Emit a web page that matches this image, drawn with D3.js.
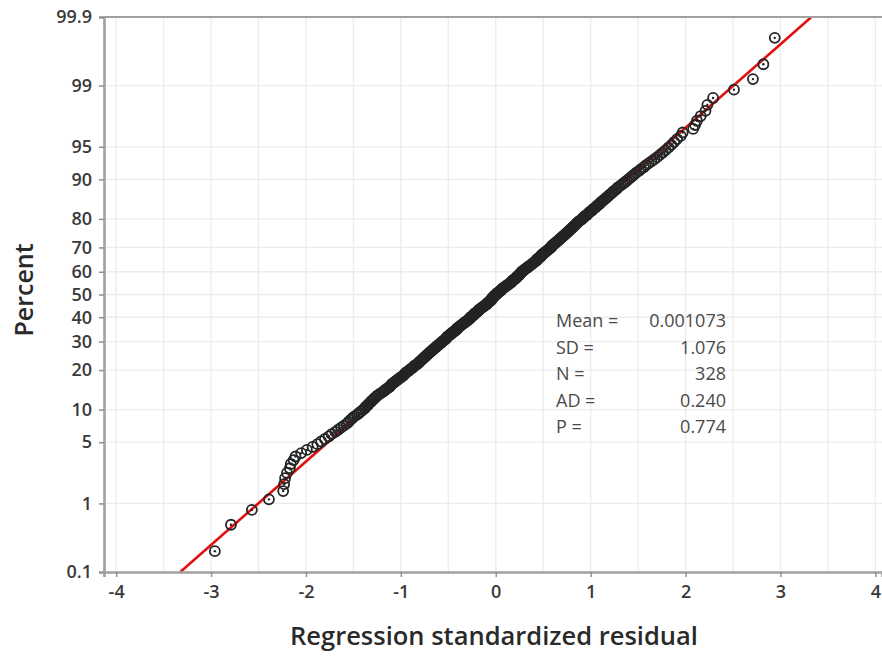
<!DOCTYPE html>
<html>
<head>
<meta charset="utf-8">
<script src="https://cdn.jsdelivr.net/npm/d3@7"></script>
<style>
  html, body { margin: 0; padding: 0; background: #ffffff; }
  svg { display: block; }
  .tick text { font-family: "Open Sans", sans-serif; font-weight: 600; fill: #3a3a3a; }
</style>
</head>
<body>
<svg id="chart" width="882" height="658"></svg>
<script>
// Standardized residuals, sorted ascending (n = 328)
const residuals = [
  -2.96, -2.79, -2.57, -2.39, -2.24, -2.23, -2.22, -2.20, -2.17, -2.16,
  -2.13, -2.11, -2.05, -1.99, -1.93, -1.88, -1.84, -1.80, -1.76, -1.73,
  -1.69, -1.66, -1.63, -1.60, -1.57, -1.55, -1.53, -1.51, -1.49, -1.46,
  -1.44, -1.42, -1.40, -1.38, -1.37, -1.35, -1.34, -1.32, -1.31, -1.29,
  -1.28, -1.26, -1.25, -1.23, -1.21, -1.19, -1.17, -1.16, -1.14, -1.12,
  -1.11, -1.10, -1.09, -1.07, -1.06, -1.04, -1.03, -1.01, -1.00, -0.98,
  -0.97, -0.96, -0.95, -0.94, -0.92, -0.91, -0.90, -0.88, -0.87, -0.86,
  -0.85, -0.83, -0.82, -0.81, -0.80, -0.79, -0.78, -0.77, -0.76, -0.75,
  -0.74, -0.73, -0.72, -0.71, -0.70, -0.69, -0.68, -0.67, -0.66, -0.65,
  -0.64, -0.63, -0.62, -0.61, -0.60, -0.59, -0.58, -0.57, -0.56, -0.55,
  -0.54, -0.53, -0.52, -0.52, -0.51, -0.50, -0.49, -0.48, -0.47, -0.46,
  -0.45, -0.44, -0.43, -0.42, -0.41, -0.41, -0.40, -0.39, -0.38, -0.37,
  -0.36, -0.35, -0.34, -0.33, -0.32, -0.31, -0.30, -0.29, -0.28, -0.27,
  -0.27, -0.26, -0.25, -0.24, -0.23, -0.23, -0.22, -0.21, -0.20, -0.19,
  -0.18, -0.18, -0.17, -0.16, -0.15, -0.14, -0.13, -0.12, -0.11, -0.10,
  -0.09, -0.09, -0.08, -0.07, -0.06, -0.05, -0.05, -0.04, -0.04, -0.03,
  -0.02, -0.02, -0.01, 0.00,
  0.01, 0.01, 0.02, 0.03, 0.04, 0.05, 0.06, 0.06, 0.07, 0.08,
  0.09, 0.10, 0.11, 0.12, 0.13, 0.14, 0.15, 0.16, 0.17, 0.17,
  0.18, 0.19, 0.20, 0.21, 0.22, 0.22, 0.23, 0.24, 0.25, 0.25,
  0.26, 0.27, 0.27, 0.28, 0.29, 0.30, 0.31, 0.32, 0.33, 0.34,
  0.35, 0.36, 0.37, 0.38, 0.39, 0.40, 0.41, 0.42, 0.43, 0.43,
  0.44, 0.45, 0.46, 0.47, 0.48, 0.48, 0.49, 0.50, 0.51, 0.52,
  0.53, 0.54, 0.55, 0.56, 0.57, 0.58, 0.59, 0.59, 0.60, 0.61,
  0.62, 0.63, 0.64, 0.65, 0.66, 0.67, 0.68, 0.69, 0.70, 0.71,
  0.72, 0.73, 0.74, 0.75, 0.76, 0.77, 0.78, 0.79, 0.80, 0.81,
  0.82, 0.83, 0.84, 0.85, 0.86, 0.87, 0.88, 0.90, 0.91, 0.92,
  0.93, 0.94, 0.96, 0.97, 0.98, 0.99, 1.01, 1.02, 1.03, 1.05,
  1.06, 1.07, 1.09, 1.10, 1.11, 1.13, 1.14, 1.16, 1.17, 1.19,
  1.20, 1.22, 1.23, 1.25, 1.27, 1.28, 1.30, 1.32, 1.34, 1.36,
  1.38, 1.40, 1.42, 1.44, 1.46, 1.48, 1.51, 1.53, 1.56, 1.58,
  1.61, 1.64, 1.67, 1.70, 1.73, 1.76, 1.79, 1.82, 1.85, 1.88,
  1.91, 1.95, 1.97, 2.08, 2.10, 2.12, 2.16, 2.21, 2.23, 2.29,
  2.51, 2.71, 2.82, 2.94
];

// Summary statistics shown in the plot
const statLabels = ["Mean =", "SD =", "N =", "AD =", "P ="];
const statValues = ["0.001073", "1.076", "328", "0.240", "0.774"];
const fitMean = 0.001073;
const fitSD = 1.076;

// Axis ticks
const xTicks = [-4, -3, -2, -1, 0, 1, 2, 3, 4];
const xGrid = [-4, -3.5, -3, -2.5, -2, -1.5, -1, -0.5, 0, 0.5, 1, 1.5, 2, 2.5, 3, 3.5, 4];
const yTicks = [0.1, 1, 5, 10, 20, 30, 40, 50, 60, 70, 80, 90, 95, 99, 99.9];

// Inverse standard normal CDF (Acklam's rational approximation)
function probit(p) {
  const a = [-3.969683028665376e+01, 2.209460984245205e+02, -2.759285104469687e+02,
             1.383577518672690e+02, -3.066479806614716e+01, 2.506628277459239e+00];
  const b = [-5.447609879822406e+01, 1.615858368580409e+02, -1.556989798598866e+02,
             6.680131188771972e+01, -1.328068155288572e+01];
  const c = [-7.784894002430293e-03, -3.223964580411365e-01, -2.400758277161838e+00,
             -2.549732539343734e+00, 4.374664141464968e+00, 2.938163982698783e+00];
  const d = [7.784695709041462e-03, 3.224671290700398e-01, 2.445134137142996e+00,
             3.754408661907416e+00];
  const pl = 0.02425, ph = 1 - pl;
  let q, r;
  if (p < pl) {
    q = Math.sqrt(-2 * Math.log(p));
    return (((((c[0]*q+c[1])*q+c[2])*q+c[3])*q+c[4])*q+c[5]) /
           ((((d[0]*q+d[1])*q+d[2])*q+d[3])*q+1);
  }
  if (p <= ph) {
    q = p - 0.5; r = q * q;
    return (((((a[0]*r+a[1])*r+a[2])*r+a[3])*r+a[4])*r+a[5]) * q /
           (((((b[0]*r+b[1])*r+b[2])*r+b[3])*r+b[4])*r+1);
  }
  q = Math.sqrt(-2 * Math.log(1 - p));
  return -(((((c[0]*q+c[1])*q+c[2])*q+c[3])*q+c[4])*q+c[5]) /
          ((((d[0]*q+d[1])*q+d[2])*q+d[3])*q+1);
}

const svg = d3.select("#chart");
const plot = { left: 104, right: 882, top: 17, bottom: 572 };

const x = d3.scaleLinear().domain([-4.128, 4.07]).range([plot.left, plot.right]);
const y = d3.scaleLinear()
  .domain([probit(0.001), probit(0.999)])
  .range([plot.bottom, plot.top]);

// Median-rank plotting positions
const n = residuals.length;
const points = residuals.map((v, i) => ({ v, z: probit((i + 1 - 0.3) / (n + 0.4)) }));

// Gridlines
const grid = svg.append("g");
grid.selectAll("line.v").data(xGrid).join("line")
  .attr("x1", d => x(d)).attr("x2", d => x(d))
  .attr("y1", plot.top).attr("y2", plot.bottom)
  .attr("stroke", "#ececec").attr("stroke-width", 1.3);
grid.selectAll("line.h").data(yTicks.slice(1, -1)).join("line")
  .attr("x1", plot.left).attr("x2", plot.right)
  .attr("y1", d => y(probit(d / 100))).attr("y2", d => y(probit(d / 100)))
  .attr("stroke", "#ececec").attr("stroke-width", 1.3);

// Fitted normal line
const zLo = probit(0.001), zHi = probit(0.999);
const fitLine = d3.line().x(d => x(fitMean + fitSD * d)).y(d => y(d));
svg.append("clipPath").attr("id", "clip").append("rect")
  .attr("x", plot.left).attr("y", plot.top)
  .attr("width", plot.right - plot.left).attr("height", plot.bottom - plot.top);
svg.append("path")
  .datum([zLo, zHi])
  .attr("clip-path", "url(#clip)")
  .attr("d", fitLine)
  .attr("fill", "none")
  .attr("stroke", "#e01010")
  .attr("stroke-width", 2.6);

// Data points: hollow circle with centre dot
const pts = svg.append("g");
pts.selectAll("circle.ring").data(points).join("circle")
  .attr("cx", d => x(d.v)).attr("cy", d => y(d.z)).attr("r", 5)
  .attr("fill", "none").attr("stroke", "#242424").attr("stroke-width", 1.8);
pts.selectAll("circle.dot").data(points).join("circle")
  .attr("cx", d => x(d.v)).attr("cy", d => y(d.z)).attr("r", 1.2)
  .attr("fill", "#242424");

// Frame lines
svg.append("line")
  .attr("x1", plot.left).attr("x2", plot.right)
  .attr("y1", plot.top).attr("y2", plot.top)
  .attr("stroke", "#a0a0a0").attr("stroke-width", 2);

// Axes
const yAxis = d3.axisLeft(y)
  .tickValues(yTicks.map(t => probit(t / 100)))
  .tickFormat((d, i) => String(yTicks[i]))
  .tickSize(5).tickPadding(7);
const gy = svg.append("g").attr("transform", `translate(${plot.left},0)`).call(yAxis);
gy.select(".domain").attr("stroke", "#a0a0a0").attr("stroke-width", 2.6);
gy.selectAll(".tick line").attr("stroke", "#909090").attr("stroke-width", 1.5);
gy.selectAll(".tick text").style("font-size", "18px");

const xAxis = d3.axisBottom(x).tickValues(xTicks)
  .tickFormat(d => String(d)).tickSize(5).tickPadding(8);
const gx = svg.append("g").attr("transform", `translate(0,${plot.bottom})`).call(xAxis);
gx.select(".domain").attr("stroke", "#a0a0a0").attr("stroke-width", 2.6);
gx.selectAll(".tick line").attr("stroke", "#909090").attr("stroke-width", 1.5);
gx.selectAll(".tick text").style("font-size", "18px");

// Axis titles
svg.append("text")
  .attr("x", 494).attr("y", 645)
  .attr("text-anchor", "middle")
  .style("font-family", "Open Sans, sans-serif")
  .style("font-weight", 600)
  .style("font-size", "25.5px")
  .attr("fill", "#2a2a2a")
  .text("Regression standardized residual");

svg.append("text")
  .attr("transform", "translate(33,290) rotate(-90)")
  .attr("text-anchor", "middle")
  .style("font-family", "Open Sans, sans-serif")
  .style("font-weight", 600)
  .style("font-size", "25px")
  .attr("fill", "#2a2a2a")
  .text("Percent");

// Statistics block
const stats = svg.append("g")
  .style("font-family", "Open Sans, sans-serif")
  .style("font-size", "18px")
  .attr("fill", "#4a4a4a");
stats.selectAll("text.lab").data(statLabels).join("text")
  .attr("x", 556).attr("y", (d, i) => 327 + i * 26.6)
  .text(d => d);
stats.selectAll("text.val").data(statValues).join("text")
  .attr("x", 726).attr("y", (d, i) => 327 + i * 26.6)
  .attr("text-anchor", "end")
  .text(d => d);
</script>
</body>
</html>
